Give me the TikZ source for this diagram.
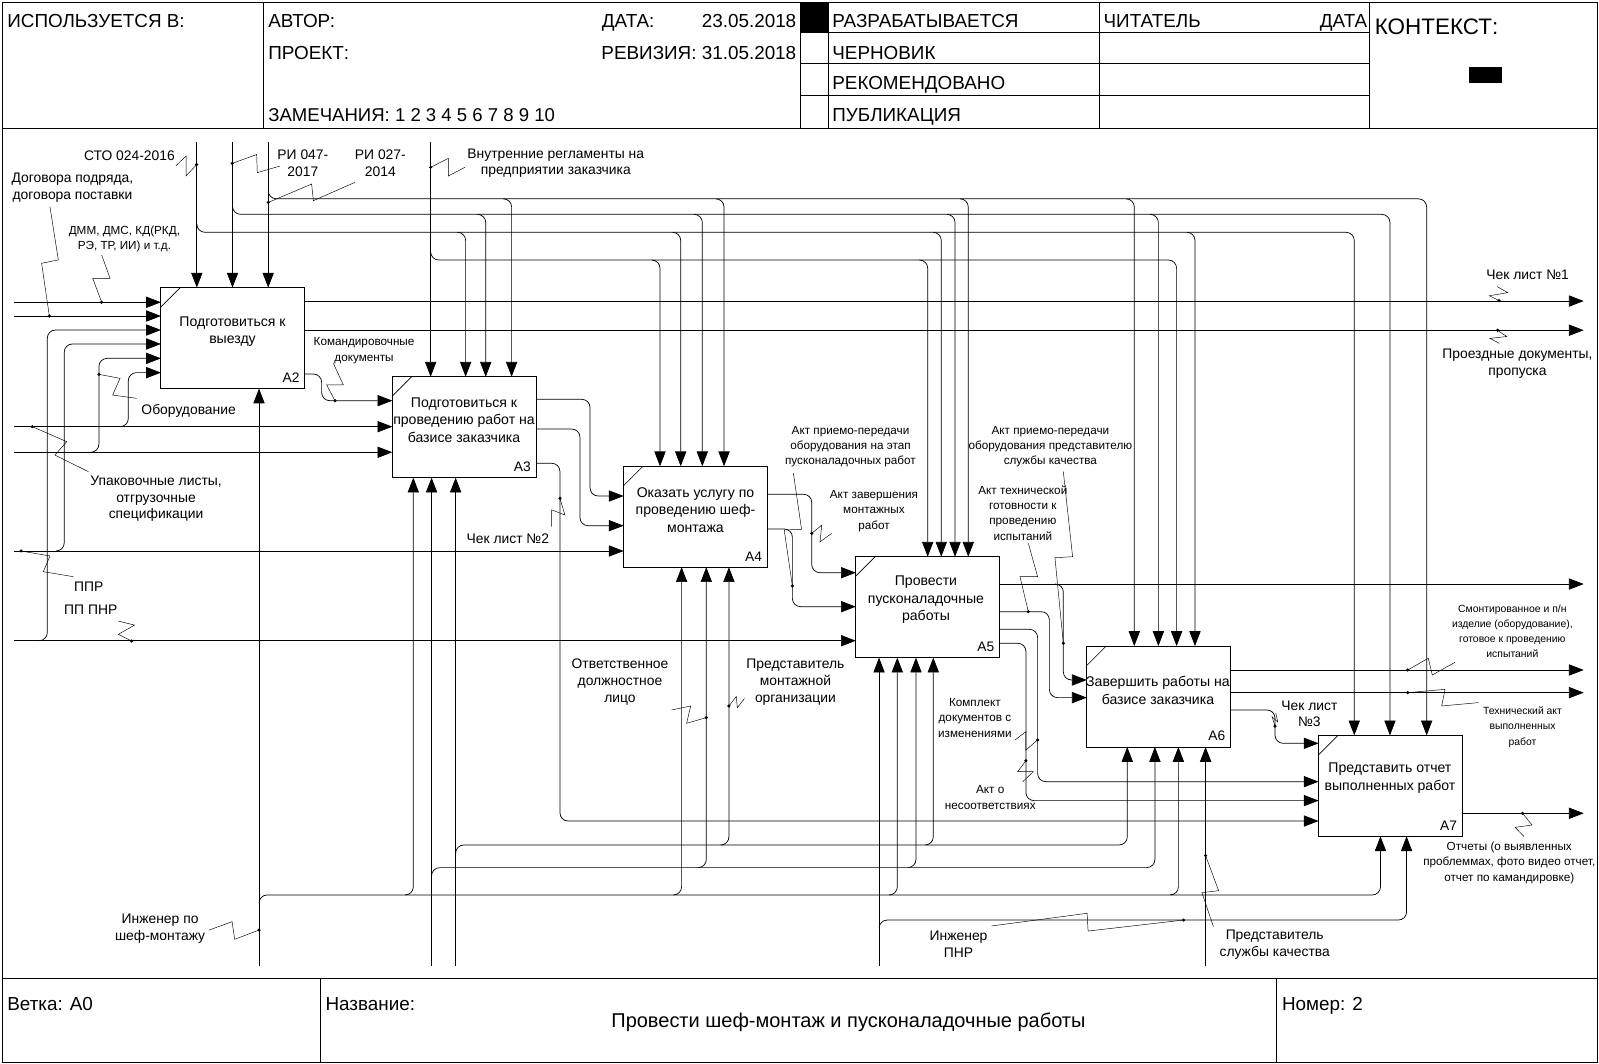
\documentclass[tikz,border=0pt]{standalone}
\usepackage{fontspec}
\setmainfont{Liberation Sans}
\usetikzlibrary{arrows.meta}
\begin{document}
\begin{tikzpicture}[x=1pt,y=-1pt,
  ln/.style={line width=0.7pt, rounded corners=8pt},
  ar/.style={ln, -{Triangle[length=14.5pt,width=11pt]}},
  bx/.style={draw, line width=0.9pt, minimum width=141pt, minimum height=99pt, inner sep=0pt, outer sep=0pt},
  ld/.style={line width=0.45pt},
  fr/.style={line width=0.8pt},
  tb/.style={font=\fontsize{13.8}{17}\selectfont, align=center, inner sep=0pt},
  tl/.style={font=\fontsize{13.6}{16.5}\selectfont, align=center, inner sep=0pt},
  tm/.style={font=\fontsize{11.5}{15}\selectfont, align=center, inner sep=0pt},
  ts/.style={font=\fontsize{11.5}{15}\selectfont, align=center, inner sep=0pt},
  tx/.style={font=\fontsize{10.2}{15}\selectfont, align=center, inner sep=0pt},
  hd/.style={font=\fontsize{18.5}{20}\selectfont, inner sep=0pt, anchor=base west},
  hde/.style={font=\fontsize{18.5}{20}\selectfont, inner sep=0pt, anchor=base east},
  bid/.style={font=\fontsize{13.5}{15}\selectfont, inner sep=0pt, anchor=base east},
  dt/.style={circle, fill, inner sep=0pt, minimum size=3.4pt},
]
\useasboundingbox (0,0) rectangle (1568,1043);
% frame
\draw[fr] (2,2) rectangle (1566,1042);
\draw[fr] (2,125.5) -- (1566,125.5);
\draw[fr] (2,959) -- (1566,959);
\draw[fr] (258,2) -- (258,125.5);
\draw[fr] (785,2) -- (785,125.5);
\draw[fr] (812,2) -- (812,125.5);
\draw[fr] (1078,2) -- (1078,125.5);
\draw[fr] (1343,2) -- (1343,125.5);
\draw[fr] (785,32) -- (1343,32);
\draw[fr] (785,62.5) -- (1343,62.5);
\draw[fr] (785,93.5) -- (1343,93.5);
\fill (785,2) rectangle (812,32);
\fill (1440.5,65.4) rectangle (1472.5,81.7);
\draw[fr] (314,959) -- (314,1042);
\draw[fr] (1252,959) -- (1252,1042);
% header text
\node[hd] (h1) at (7,27) {ИСПОЛЬЗУЕТСЯ В:};
\node[hd] (h2) at (263,27) {АВТОР:};
\node[hd] (h3) at (590,27) {ДАТА:};
\node[hde] (h4) at (781,27) {23.05.2018};
\node[hd] (h5) at (263,58) {ПРОЕКТ:};
\node[hde] (h6) at (781,58) {РЕВИЗИЯ: 31.05.2018};
\node[hd, font=\fontsize{18.2}{20}\selectfont] (h7) at (263,119) {ЗАМЕЧАНИЯ: 1 2 3 4 5 6 7 8 9 10};
\node[hd] (h8) at (816,27) {РАЗРАБАТЫВАЕТСЯ};
\node[hd] (h9) at (816,58) {ЧЕРНОВИК};
\node[hd] (h10) at (816,88) {РЕКОМЕНДОВАНО};
\node[hd] (h11) at (816,119) {ПУБЛИКАЦИЯ};
\node[hd] (h12) at (1082,27) {ЧИТАТЕЛЬ};
\node[hde] (h13) at (1341,27) {ДАТА};
\node[hd, font=\fontsize{22}{24}\selectfont] (h14) at (1348,34) {КОНТЕКСТ:};
% footer text
\node[hd] (f1) at (7,991) {Ветка: A0};
\node[hd] (f2) at (319,991) {Название:};
\node[hd] (f3) at (1257,991) {Номер: 2};
\node[font=\fontsize{19.6}{21}\selectfont, inner sep=0pt] (f4) at (832,1002) {Провести шеф-монтаж и пусконаладочные работы};
% boxes
\node[bx] (a2) at (228.3,331.5) {};
\node[bx] (a3) at (455.2,418.9) {};
\node[bx] (a4) at (682,506.7) {};
\node[bx] (a5) at (909.7,595.4) {};
\node[bx] (a6) at (1136.2,683) {};
\node[bx] (a7) at (1363.5,770.6) {};
\foreach \b in {a2,a3,a4,a5,a6,a7} \draw[line width=0.6pt] (\b.north west) ++(0,19) -- ++(19,-19);
\node[tb] (a2t) at (228,325) {Подготовиться к\\выезду};
\node[tb] (a3t) at (455,412) {Подготовиться к\\проведению работ на\\базисе заказчика};
\node[tb] (a4t) at (682,500) {Оказать услугу по\\проведению шеф-\\монтажа};
\node[tb] (a5t) at (908,588) {Провести\\пусконаладочные\\работы};
\node[tb] (a6t) at (1135.5,677) {Завершить работы на\\базисе заказчика};
\node[tb] (a7t) at (1363,763) {Представить отчет\\выполненных работ};
\node[bid] (a2i) at ([xshift=-5pt,yshift=6pt]a2.south east) {A2};
\node[bid] (a3i) at ([xshift=-5pt,yshift=6pt]a3.south east) {A3};
\node[bid] (a4i) at ([xshift=-5pt,yshift=6pt]a4.south east) {A4};
\node[bid] (a5i) at ([xshift=-5pt,yshift=6pt]a5.south east) {A5};
\node[bid] (a6i) at ([xshift=-5pt,yshift=6pt]a6.south east) {A6};
\node[bid] (a7i) at ([xshift=-5pt,yshift=6pt]a7.south east) {A7};
% controls
\coordinate (sto) at (193,139);
\coordinate (ri47) at (228,139);
\coordinate (ri27) at (263,139);
\coordinate (vnr) at (422.3,139);
\draw[ar] (sto) -- (sto |- a2.north);
\draw[ar] (ri47) -- (ri47 |- a2.north);
\draw[ar] (ri27) -- (ri27 |- a2.north);
\draw[ar] (vnr) -- (vnr |- a3.north);
\draw[ar] (193,219.8) -- (193,227.8) -- (1328,227.8) -- (a7.north -| 1328,0);
\foreach \x/\b in {456.6/a3,667.5/a4,923/a5,1171.8/a6}
  \draw[ar] ({\x-8},227.8) -- (\x,227.8) -- (\b.north -| \x,0);
\draw[ar] (228,202.2) -- (228,210.2) -- (1363,210.2) -- (a7.north -| 1363,0);
\foreach \x/\b in {476.3/a3,688.7/a4,936.5/a5,1135.9/a6}
  \draw[ar] ({\x-8},210.2) -- (\x,210.2) -- (\b.north -| \x,0);
\draw[ar] (263,187) -- (263,195) -- (1399,195) -- (a7.north -| 1399,0);
\foreach \x/\b in {501.7/a3,710/a4,949.5/a5,1112.3/a6}
  \draw[ar] ({\x-8},195) -- (\x,195) -- (\b.north -| \x,0);
\draw[ar] (422.3,247) -- (422.3,255) -- (1153.8,255) -- (a6.north -| 1153.8,0);
\foreach \x/\b in {647.2/a4,909.7/a5}
  \draw[ar] ({\x-8},255) -- (\x,255) -- (\b.north -| \x,0);
% inputs from left
\coordinate (dmm) at (13.7,296.4);
\coordinate (dog) at (13.7,309.9);
\coordinate (upk) at (13.7,418.4);
\coordinate (obo) at (13.7,443.5);
\coordinate (ppr) at (13.7,540.3);
\coordinate (pnr) at (13.7,628.3);
\draw[ar] (dmm) -- (dmm -| a2.west);
\draw[ar] (dog) -- (dog -| a2.west);
\draw[ar] (upk) -- (upk -| a3.west);
\draw[ar] (obo) -- (obo -| a3.west);
\draw[ar] (ppr) -- (ppr -| a4.west);
\draw[ar] (pnr) -- (pnr -| a5.west);
\draw[ar] (38.4,628.3) -- (46.4,628.3) -- (46.4,323.6) -- (a2.west |- 0,323.6);
\draw[ar] (55,540.3) -- (63,540.3) -- (63,337.3) -- (a2.west |- 0,337.3);
\draw[ar] (89,443.5) -- (97,443.5) -- (97,351.4) -- (a2.west |- 0,351.4);
\draw[ar] (117.8,418.4) -- (125.8,418.4) -- (125.8,365.4) -- (a2.west |- 0,365.4);
% outputs
\coordinate (o1) at (1553,295.2);
\coordinate (o2) at (1553,323.8);
\coordinate (o3) at (1553,572.7);
\coordinate (o4) at (1553,657);
\coordinate (o5) at (1553,679.2);
\coordinate (o6) at (1553,797.5);
\draw[ar] (a2.east |- o1) -- (o1);
\draw[ar] (a2.east |- o2) -- (o2);
\draw[ar] (a2.east |- 0,366.8) -- (315.4,366.8) -- (315.4,392.9) -- (a3.west |- 0,392.9);
\draw[ar] (a3.east |- 0,391.6) -- (578.6,391.6) -- (578.6,486.4) -- (a4.west |- 0,486.4);
\draw[ar] (a3.east |- 0,420.7) -- (568.7,420.7) -- (568.7,515.5) -- (a4.west |- 0,515.5);
\draw[ar] (a3.east |- 0,454.3) -- (549.1,454.3) -- (549.1,805.1) -- (a7.west |- 0,805.1);
\draw[ar] (a4.east |- 0,484.7) -- (796,484.7) -- (796,561.6) -- (a5.west |- 0,561.6);
\draw[ar] (a4.east |- 0,518.7) -- (777,518.7) -- (777,594.9) -- (a5.west |- 0,594.9);
\draw[ar] (a5.east |- o3) -- (o3);
\draw[ar] (1034.7,572.7) -- (1042.7,572.7) -- (1042.7,666.8) -- (a6.west |- 0,666.8);
\draw[ar] (a5.east |- 0,599.8) -- (1029,599.8) -- (1029,684.1) -- (a6.west |- 0,684.1);
\draw[ar] (a5.east |- 0,617.1) -- (1017.5,617.1) -- (1017.5,766.5) -- (a7.west |- 0,766.5);
\draw[ar] (a5.east |- 0,630.8) -- (1006,630.8) -- (1006,785.1) -- (a7.west |- 0,785.1);
\draw[ar] (a6.east |- o4) -- (o4);
\draw[ar] (a6.east |- o5) -- (o5);
\draw[ar] (a6.east |- 0,696.2) -- (1250.3,696.2) -- (1250.3,728.9) -- (a7.west |- 0,728.9);
\draw[ar] (a7.east |- o6) -- (o6);
% mechanisms
\coordinate (m1) at (254,947.3);
\coordinate (m2) at (423.2,947.3);
\coordinate (m3) at (446.8,947.3);
\coordinate (m4) at (862,947.3);
\coordinate (m5) at (1182.2,947.3);
\draw[ar] (m1) -- (m1 |- a2.south);
\draw[ar] (254,885.6) -- (254,877.6) -- (1353.7,877.6) -- (a7.south -| 1353.7,0);
\foreach \x/\b in {405.3/a3,668.4/a4,879.9/a5,1155.5/a6}
  \draw[ar] ({\x-8},877.6) -- (\x,877.6) -- (\b.south -| \x,0);
\draw[ar] (m2) -- (m2 |- a3.south);
\draw[ar] (423.2,858.8) -- (423.2,850.8) -- (1132.5,850.8) -- (a6.south -| 1132.5,0);
\foreach \x/\b in {692.6/a4,898.2/a5}
  \draw[ar] ({\x-8},850.8) -- (\x,850.8) -- (\b.south -| \x,0);
\draw[ar] (m3) -- (m3 |- a3.south);
\draw[ar] (446.8,836.6) -- (446.8,828.6) -- (1105.4,828.6) -- (a6.south -| 1105.4,0);
\foreach \x/\b in {714.8/a4,915.2/a5}
  \draw[ar] ({\x-8},828.6) -- (\x,828.6) -- (\b.south -| \x,0);
\draw[ar] (m4) -- (m4 |- a5.south);
\draw[ar] (862,910.2) -- (862,902.2) -- (1379.3,902.2) -- (a7.south -| 1379.3,0);
\draw[ar] (m5) -- (m5 |- a6.south);
% labels
\node[tl] (l1) at (127,153) {СТО 024-2016};
\node[tl] (l2) at (297,160) {РИ 047-\\2017};
\node[tl] (l3) at (373,160) {РИ 027-\\2014};
\node[tl] (l4) at (545,160) {Внутренние регламенты на\\предприятии заказчика};
\node[tl] (l5) at (71,184) {Договора подряда,\\договора поставки};
\node[tm] (l6) at (122,234) {ДММ, ДМС, КД(РКД,\\РЭ, ТР, ИИ) и т.д.};
\node[tl] (l7) at (185,403) {Оборудование};
\node[tl] (l8) at (153,489) {Упаковочные листы,\\отгрузочные\\спецификации};
\node[tl] (l9) at (87,575) {ППР};
\node[tl] (l10) at (89,598) {ПП ПНР};
\node[tm] (l11) at (357,344) {Командировочные\\документы};
\node[tl] (l12) at (1498,269) {Чек лист №1};
\node[tl] (l13) at (1488,357) {Проездные документы,\\пропуска};
\node[tl] (l14) at (498,528) {Чек лист №2};
\node[ts] (l15) at (834,438) {Акт приемо-передачи\\оборудования на этап\\пусконаладочных работ};
\node[tm] (l16) at (857,501) {Акт завершения\\монтажных\\работ};
\node[ts] (l17) at (1030,438) {Акт приемо-передачи\\оборудования представителю\\службы качества};
\node[ts] (l18) at (1003,503) {Акт технической\\готовности к\\проведению\\испытаний};
\node[tl] (l19) at (608,669) {Ответственное\\должностное\\лицо};
\node[tl] (l20) at (780,669) {Представитель\\монтажной\\организации};
\node[ts] (l21) at (956,704) {Комплект\\документов с\\изменениями};
\node[ts] (l22) at (971,782) {Акт о\\несоответствиях};
\node[tx] (l23) at (1483,619) {Смонтированное и п/н\\изделие (оборудование),\\готовое к проведению\\испытаний};
\node[tx] (l24) at (1493,713) {Технический акт\\выполненных\\работ};
\node[ts] (l25) at (1480,846) {Отчеты (о выявленных\\проблеммах, фото видео отчет,\\отчет по камандировке)};
\node[tl] (l26) at (1284,700) {Чек лист\\№3};
\node[tl] (l27) at (157,911) {Инженер по\\шеф-монтажу};
\node[tl] (l28) at (940,926) {Инженер\\ПНР};
\node[tl] (l29) at (1250,926) {Представитель\\службы качества};
% leaders and dots
\draw[ld] (192.9,161.3) -- (182.5,172.5) -- (182.5,153) -- (172.5,162.6);
\node[dt] at (192.9,161.3) {};
\draw[ld] (227.8,160.2) -- (251.7,151.5) -- (252.3,169.3) -- (274.6,162.8);
\node[dt] at (227.8,160.2) {};
\draw[ld] (263.1,198.5) -- (305.6,180.5) -- (307.3,196.8) -- (348.1,178.8);
\node[dt] at (263.1,198.5) {};
\draw[ld] (422.3,164.1) -- (439.6,155.3) -- (439.6,172.6) -- (456,164);
\node[dt] at (422.3,164.1) {};
\draw[ld] (48.4,309.9) -- (40.8,258.2) -- (57.2,254.9) -- (49,202.7);
\node[dt] at (48.4,309.9) {};
\draw[ld] (99.7,296.4) -- (90.9,272.9) -- (107.9,272.9) -- (99.7,250);
\node[dt] at (99.7,296.4) {};
\draw[ld] (97,367.1) -- (117.7,371) -- (110.5,387.4) -- (134,390.6);
\node[dt] at (97,367.1) {};
\draw[ld] (31.7,418.4) -- (65.4,433.1) -- (53.9,446.2) -- (86.6,462.5);
\node[dt] at (31.7,418.4) {};
\draw[ld] (20.6,540.3) -- (49,545.2) -- (42.5,560.6) -- (71.9,565.5);
\node[dt] at (20.6,540.3) {};
\draw[ld] (129.1,628.6) -- (116,622) -- (132,613) -- (116,609);
\node[dt] at (129.1,628.6) {};
\draw[ld] (328.5,392.9) -- (320.4,377.5) -- (336.7,377.5) -- (326.9,356.3);
\node[dt] at (328.5,392.9) {};
\draw[ld] (1470,294.8) -- (1460.5,290) -- (1478.5,287) -- (1468,281);
\node[dt] at (1470,294.8) {};
\draw[ld] (1468.6,323.9) -- (1477.5,330) -- (1461,331.8) -- (1470.2,336.7);
\node[dt] at (1468.6,323.9) {};
\draw[ld] (549.1,488.7) -- (554,505) -- (541,500) -- (541,516.5);
\node[dt] at (549.1,488.7) {};
\draw[ld] (777,574.6) -- (769,519.7) -- (786,519) -- (778,464);
\node[dt] at (777,574.6) {};
\draw[ld] (796,523) -- (805.8,515) -- (804.1,531.4) -- (815.5,523);
\node[dt] at (796,523) {};
\draw[ld] (1042.7,630.8) -- (1034.5,546.9) -- (1051.8,545.9) -- (1042.7,462.5);
\node[dt] at (1042.7,630.8) {};
\draw[ld] (1008.4,599.8) -- (1000.2,565.5) -- (1017.5,565.5) -- (1008.4,532.8);
\node[dt] at (1008.4,599.8) {};
\draw[ld] (1017.5,725.6) -- (1006,735.5) -- (1006,717.5) -- (995.3,725.6);
\node[dt] at (1017.5,725.6) {};
\draw[ld] (1006,746) -- (997.9,756.7) -- (1013.2,756.7) -- (1003,766.5);
\node[dt] at (1006,746) {};
\draw[ld] (692.6,703.7) -- (673.3,709.3) -- (677.3,692.3) -- (658.6,696.2);
\node[dt] at (692.6,703.7) {};
\draw[ld] (714.8,692.3) -- (722,683) -- (723,694) -- (730,685);
\node[dt] at (714.8,692.3) {};
\draw[ld] (254,912) -- (230.1,921.1) -- (227.6,903.8) -- (205.1,912);
\node[dt] at (254,912) {};
\draw[ld] (1160.6,902.2) -- (1067,913) -- (1066,895.6) -- (972.3,908);
\node[dt] at (1160.6,902.2) {};
\draw[ld] (1182.2,839) -- (1195,873.4) -- (1178.6,875.3) -- (1189.9,908.7);
\node[dt] at (1182.2,839) {};
\draw[ld] (1380.4,657) -- (1400.6,645.5) -- (1404.5,661.9) -- (1426.8,649.5);
\node[dt] at (1380.4,657) {};
\draw[ld] (1380.4,679.2) -- (1417,676) -- (1413.7,692.3) -- (1449.6,689);
\node[dt] at (1380.4,679.2) {};
\draw[ld] (1250.3,712) -- (1247.5,703) -- (1253,708) -- (1251,699);
\node[dt] at (1250.3,712) {};
\draw[ld] (1493,797.5) -- (1502.3,809) -- (1485.8,811.3) -- (1494.5,820.4);
\node[dt] at (1493,797.5) {};
\end{tikzpicture}
\end{document}
